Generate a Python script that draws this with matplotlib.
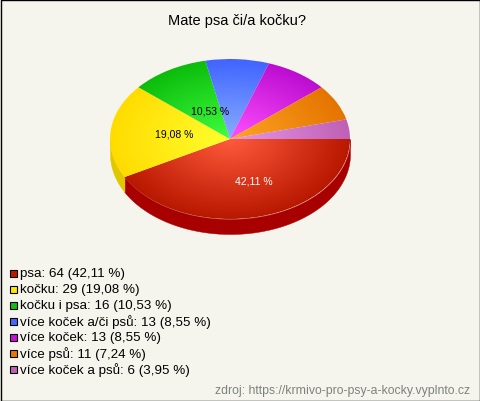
import numpy as np
import matplotlib
matplotlib.use("Agg")
import matplotlib.pyplot as plt
from matplotlib.colors import LinearSegmentedColormap
from matplotlib.patches import Rectangle

plt.rcParams["font.family"] = ["Liberation Sans", "DejaVu Sans"]

title = "Mate psa či/a kočku?"
source = "zdroj: https://krmivo-pro-psy-a-kocky.vyplnto.cz"
categories = ["psa", "kočku", "kočku i psa", "více koček a/či psů", "více koček",
              "více psů", "více koček a psů"]
counts = [64, 29, 16, 13, 13, 11, 6]
percents = ["42,11", "19,08", "10,53", "8,55", "8,55", "7,24", "3,95"]

center_colors = ["#ff5a3c", "#ffff30", "#40ff40", "#88adff", "#ff50ff", "#ffa524", "#e498ec"]
edge_colors = ["#b81800", "#ffdc00", "#0cbc0c", "#4064ff", "#bc0cd0", "#e47400", "#c060b4"]
side_colors = ["#a80000", "#e0c800", "#0a960a", "#3050c0", "#960aa6", "#b45a00", "#98488e"]
legend_colors = ["#c01800", "#ffe800", "#10c010", "#4468ff", "#c810d8", "#e87800", "#c060b8"]

BG = "#f5f5ee"
W, H = 480, 402
CX, CY, RX, RY, DEPTH = 230, 140, 120, 80, 15


def pixel_axes(fig, left, top, right, bottom):
    return fig.add_axes([left / W, 1 - bottom / H, (right - left) / W, (bottom - top) / H])


fig = plt.figure(figsize=(W / 100, H / 100), dpi=100, facecolor=BG)

# pie axes: 1 unit = RX px in x, RY px in y
ax = pixel_axes(fig, CX - 1.25 * RX, CY - 1.25 * RY, CX + 1.25 * RX, CY + 1.25 * RY)
ax.set_zorder(1)
wedges, _ = ax.pie(counts, startangle=0, counterclock=False, radius=1)
ax.set_aspect("auto")
ax.set_xlim(-1.25, 1.25)
ax.set_ylim(-1.25, 1.25)
ax.axis("off")

# side of the pie, only the front half is visible
depth = DEPTH / RY
for wedge, color in zip(wedges, side_colors):
    a1, a2 = wedge.theta1, wedge.theta2
    lo, hi = max(a1, 180), min(a2, 360)
    if a2 <= 0 or a1 < 0:
        lo, hi = max(a1 + 360, 180), min(a2 + 360, 360)
    if hi > lo:
        t = np.radians(np.linspace(lo, hi, 200))
        ax.fill_between(np.cos(t), np.sin(t), np.sin(t) - depth, color=color, lw=0.3, zorder=1)

# radial gradient per slice, clipped with the wedge
xx, yy = np.meshgrid(np.linspace(-1.02, 1.02, 500), np.linspace(-1.02, 1.02, 500))
rr = np.clip(np.hypot(xx, yy), 0, 1)
for wedge, c0, c1 in zip(wedges, center_colors, edge_colors):
    cmap = LinearSegmentedColormap.from_list("slice", [c0, c1])
    im = ax.imshow(rr, cmap=cmap, vmin=0, vmax=1, extent=(-1.02, 1.02, -1.02, 1.02),
                   origin="lower", aspect="auto", zorder=2, interpolation="bilinear")
    im.set_clip_path(wedge)
    wedge.set_facecolor(c1)
    wedge.set_alpha(0)
ax.set_xlim(-1.25, 1.25)
ax.set_ylim(-1.25, 1.25)

# overlay in pixel coordinates for the texts and the legend
ov = fig.add_axes([0, 0, 1, 1], zorder=2)
ov.set_xlim(0, W)
ov.set_ylim(H, 0)
ov.axis("off")
ov.patch.set_alpha(0)
ov.add_patch(Rectangle((0.5, 0.5), W - 1, H - 1, fill=False, ec="black", lw=1))

ov.text(237, 21.5, title, ha="center", va="center", fontsize=10.5, color="black")
ov.text(254, 182, percents[0] + " %", ha="center", va="center", fontsize=7.5, color="white")
ov.text(174, 135, percents[1] + " %", ha="center", va="center", fontsize=7.5, color="black")
ov.text(210, 111, percents[2] + " %", ha="center", va="center", fontsize=7.5, color="black")

for i in range(len(categories)):
    y = 274 + 16 * i
    ov.add_patch(Rectangle((9.5, y - 3.5), 7, 7, fc=legend_colors[i], ec="black", lw=0.8))
    ov.text(20, y + 0.5, f"{categories[i]}: {counts[i]} ({percents[i]} %)", ha="left", va="center",
            fontsize=9.65, color="black")

ov.text(470, 391, source, ha="right", va="center", fontsize=8.8, color="#808080")

fig.savefig("out.png", dpi=100, facecolor=BG)
